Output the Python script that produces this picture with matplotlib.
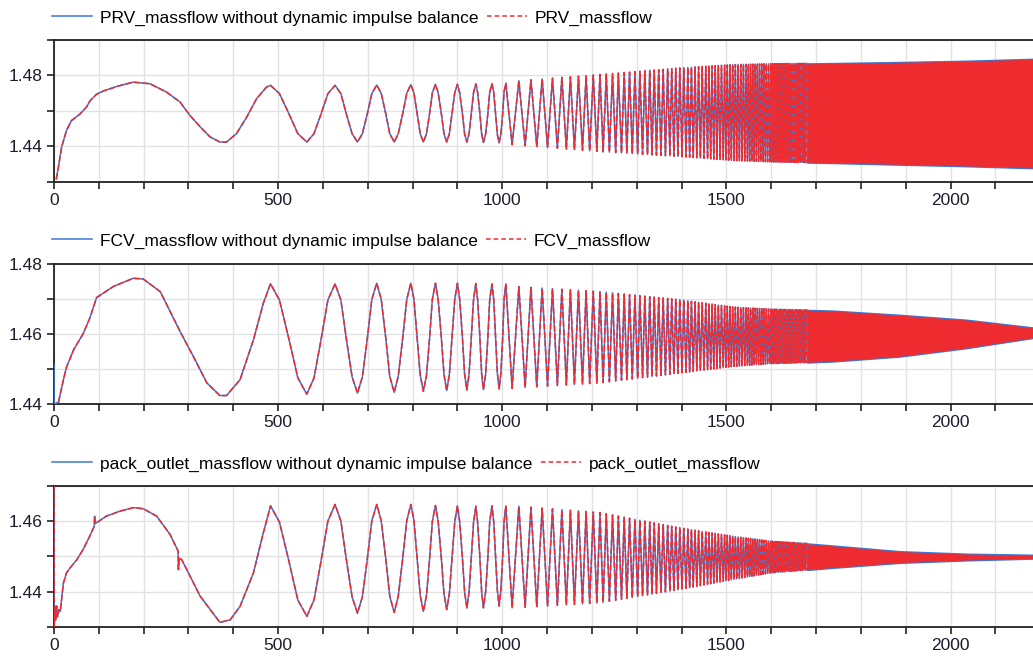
import numpy as np
import matplotlib.pyplot as plt
from matplotlib.ticker import MultipleLocator, FormatStrFormatter
from matplotlib.lines import Line2D

plt.rcParams['font.family'] = ['Liberation Sans', 'DejaVu Sans']
plt.rcParams['font.size'] = 12.5

# ---- start of each signal (t, value) ----
prv_t = [5, 10, 17, 28, 39, 58, 73, 80, 95, 110, 143, 177, 214, 251, 281, 303, 326, 348, 370, 385,
         407, 430, 452, 474]
prv_y = [1.4215, 1.4284, 1.4396, 1.449, 1.4545, 1.4582, 1.4623, 1.4656, 1.4694, 1.4712,
         1.474, 1.4762, 1.4753, 1.4706, 1.465, 1.4575, 1.451, 1.4453, 1.4424, 1.4424,
         1.4471, 1.4565, 1.4669, 1.4734]

fcv_t = [10, 21, 28, 44, 65, 80, 95, 133, 177, 199, 237, 281, 311, 341, 370, 385, 415, 445, 467]
fcv_y = [1.4405, 1.4469, 1.4505, 1.4555, 1.46, 1.4645, 1.4703, 1.4735, 1.4758, 1.4756,
         1.472, 1.4607, 1.4535, 1.446, 1.4424, 1.4424, 1.4469, 1.4583, 1.4687]

pack_t = [0, 0.5, 2, 4, 6, 8, 11, 14, 21, 28, 36, 51, 65, 80, 90, 90.5, 92, 117, 147, 177,
          199, 229, 259, 277, 277.5, 279, 285, 326, 370, 393, 415, 445, 467]
pack_y = [1.475, 1.430, 1.436, 1.432, 1.436, 1.433, 1.435, 1.4345, 1.4425, 1.4454,
          1.4468, 1.4491, 1.452, 1.4558, 1.4586, 1.4614, 1.4593, 1.4614, 1.4628, 1.4638,
          1.4635, 1.4614, 1.4562, 1.4515, 1.4463, 1.4495, 1.4491, 1.4388, 1.4314, 1.4321,
          1.4359, 1.4454, 1.4567]

# ---- the slow, readable waves (483..1008), same time points in all three plots ----
wave_t = [483, 503, 524, 544, 564, 580, 596, 611, 627, 640, 652, 665, 677, 688, 699, 709,
          720, 730, 740, 749, 759, 768, 778, 787, 796, 803, 810, 817, 824, 831, 838, 844,
          851, 857, 864, 870, 876, 882, 888, 894, 900, 905, 911, 916, 921, 926, 931, 936,
          941, 945, 950, 954, 958, 963, 968, 972, 977, 981, 985, 989, 993, 997, 1001, 1004, 1008]
prv_wave = [1.4744, 1.4697, 1.4584, 1.4471, 1.4424, 1.4471, 1.4584, 1.4697,
            1.4744, 1.4697, 1.4584, 1.4471, 1.4424, 1.4471, 1.4584, 1.4697,
            1.4746, 1.4699, 1.4585, 1.4471, 1.4424, 1.4471, 1.4585, 1.4700,
            1.4748, 1.4700, 1.4586, 1.4471, 1.4424, 1.4471, 1.4587, 1.4701,
            1.4750, 1.4702, 1.4587, 1.4471, 1.4424, 1.4471, 1.4587, 1.4702,
            1.4750, 1.4702, 1.4587, 1.4471, 1.4424, 1.4471, 1.4588, 1.4704,
            1.4752, 1.4704, 1.4587, 1.4470, 1.4422, 1.4470, 1.4588, 1.4705,
            1.4753, 1.4705, 1.4587, 1.4468, 1.4420, 1.4468, 1.4588, 1.4707,
            1.4755]
fcv_wave = [1.4742, 1.4696, 1.4585, 1.4474, 1.4428, 1.4474, 1.4585, 1.4696,
            1.4742, 1.4696, 1.4587, 1.4477, 1.4431, 1.4477, 1.4587, 1.4698,
            1.4744, 1.4698, 1.4589, 1.4479, 1.4433, 1.4479, 1.4589, 1.4698,
            1.4744, 1.4698, 1.4590, 1.4482, 1.4436, 1.4482, 1.4590, 1.4698,
            1.4744, 1.4698, 1.4591, 1.4484, 1.4438, 1.4484, 1.4591, 1.4698,
            1.4744, 1.4699, 1.4592, 1.4485, 1.4440, 1.4485, 1.4592, 1.4698,
            1.4743, 1.4698, 1.4592, 1.4486, 1.4441, 1.4486, 1.4592, 1.4697,
            1.4742, 1.4697, 1.4592, 1.4488, 1.4443, 1.4488, 1.4592, 1.4697,
            1.4742]
pack_wave = [1.4643, 1.4597, 1.4487, 1.4377, 1.4331, 1.4377, 1.4489, 1.4600,
             1.4647, 1.4600, 1.4493, 1.4386, 1.4340, 1.4386, 1.4494, 1.4601,
             1.4647, 1.4601, 1.4495, 1.4388, 1.4342, 1.4388, 1.4495, 1.4601,
             1.4647, 1.4602, 1.4496, 1.4390, 1.4345, 1.4390, 1.4495, 1.4599,
             1.4644, 1.4599, 1.4497, 1.4395, 1.4350, 1.4395, 1.4497, 1.4598,
             1.4643, 1.4598, 1.4499, 1.4400, 1.4355, 1.4400, 1.4499, 1.4597,
             1.4642, 1.4597, 1.4499, 1.4400, 1.4355, 1.4401, 1.4500, 1.4598,
             1.4643, 1.4598, 1.4502, 1.4405, 1.4360, 1.4405, 1.4502, 1.4598,
             1.4643]

# ---- maxima / minima of the fast oscillation after t=1008 (same in all plots) ----
peak_t = [1037, 1064, 1089, 1112, 1133, 1152, 1170, 1187, 1203, 1218, 1232, 1246,
          1259, 1272, 1284, 1296, 1307, 1318, 1329, 1339, 1349, 1359, 1369, 1378, 1387, 1396, 1405, 1414,
          1422, 1430, 1438, 1446, 1454, 1461, 1468, 1475, 1482, 1489, 1496, 1502, 1508, 1514, 1520, 1526,
          1532, 1538, 1544, 1549, 1554, 1559, 1564, 1569, 1574, 1579, 1584, 1589, 1594, 1599,
          1603, 1607, 1611, 1615, 1619, 1623, 1627, 1631, 1635, 1639, 1643, 1647, 1651, 1655,
          1659, 1663, 1667, 1671, 1675, 1679]
trough_t = [1022, 1051, 1077, 1101, 1123, 1143, 1161, 1179, 1195, 1211, 1225, 1239,
            1253, 1266, 1278, 1290, 1302, 1313, 1324, 1334, 1344, 1354, 1364, 1374, 1383, 1392, 1401, 1410,
            1418, 1426, 1434, 1442, 1450, 1458, 1465, 1472, 1479, 1486, 1493, 1499, 1505, 1511, 1517, 1523,
            1529, 1535, 1541, 1547, 1552, 1557, 1562, 1567, 1572, 1577, 1582, 1587, 1592, 1597,
            1601, 1605, 1609, 1613, 1617, 1621, 1625, 1629, 1633, 1637, 1641, 1645, 1649, 1653,
            1657, 1661, 1665, 1669, 1673, 1677]

# ---- upper / lower envelope of the oscillation ----
env_t = [1000, 1027, 1218, 1396, 1515, 1600, 1680, 1738, 1887, 2036, 2184]
prv_hi = [1.4755, 1.4768, 1.4805, 1.4842, 1.4861, 1.4866, 1.4868, 1.4870, 1.4876, 1.4883, 1.4894]
prv_lo = [1.4418, 1.4407, 1.4370, 1.4342, 1.4320, 1.4312, 1.4308, 1.4305, 1.4296, 1.4287, 1.4276]
fcv_hi = [1.4742, 1.4735, 1.4720, 1.4697, 1.4676, 1.4670, 1.4668, 1.4666, 1.4654, 1.4640, 1.4618]
fcv_lo = [1.4443, 1.4445, 1.4460, 1.4488, 1.4507, 1.4515, 1.4518, 1.4521, 1.4535, 1.4559, 1.4588]
pack_hi = [1.4643, 1.4643, 1.4624, 1.4581, 1.4557, 1.4543, 1.4537, 1.4531, 1.4515, 1.4508, 1.4505]
pack_lo = [1.4355, 1.4355, 1.4369, 1.4407, 1.4435, 1.4454, 1.4462, 1.4468, 1.4482, 1.4489, 1.4494]

names = ['PRV_massflow', 'FCV_massflow', 'pack_outlet_massflow']
ylims = [(1.42, 1.50), (1.44, 1.48), (1.43, 1.47)]
ysteps = [(0.04, 0.02), (0.02, 0.01), (0.02, 0.01)]

BLUE = '#3a78d6'
RED = '#ee2b2f'
DASH = (0, (4, 1.6))


def build(t0, y0, wy, hi, lo):
    pv = np.interp(peak_t, env_t, hi)
    tv = np.interp(trough_t, env_t, lo)
    et = np.concatenate([peak_t, trough_t])
    ev = np.concatenate([pv, tv])
    order = np.argsort(et)
    return (np.concatenate([t0, wave_t, et[order]]),
            np.concatenate([y0, wy, ev[order]]))


series = [build(prv_t, prv_y, prv_wave, prv_hi, prv_lo),
          build(fcv_t, fcv_y, fcv_wave, fcv_hi, fcv_lo),
          build(pack_t, pack_y, pack_wave, pack_hi, pack_lo)]
envs = [(prv_hi, prv_lo), (fcv_hi, fcv_lo), (pack_hi, pack_lo)]

fig = plt.figure(figsize=(10.33, 6.59), dpi=100)
boxes = [(0.7243, 0.9393), (0.3870, 0.6001), (0.0481, 0.2630)]
leg_y = [1.155, 1.160, 1.153]
left = 54 / 1033

env_t_arr = np.array(env_t)
dense = env_t_arr >= 1680

for i, b in enumerate(boxes):
    ax = fig.add_axes([left, b[0], 1 - left, b[1] - b[0]])
    t, y = series[i]
    hi = np.array(envs[i][0])
    lo = np.array(envs[i][1])

    if i == 1:
        # blue trace starts with a short jump at t=0
        ax.plot([0, 0, 10], [1.451, 1.440, 1.4405], color=BLUE, lw=1.1, zorder=3)
    ax.plot(t, y, color=BLUE, lw=1.1, zorder=3)
    ax.fill_between(env_t_arr[dense], lo[dense], hi[dense], color=BLUE, lw=1.0, zorder=3)
    ax.plot(t, y, color=RED, lw=1.1, ls=DASH, zorder=4)
    pad = 0.0002 if i == 0 else 0.0001
    ax.fill_between(env_t_arr[dense], lo[dense] + pad, hi[dense] - pad,
                    color=RED, lw=0, zorder=4)

    ax.set_xlim(0, 2184)
    ax.set_ylim(*ylims[i])
    ax.xaxis.set_major_locator(MultipleLocator(500))
    ax.xaxis.set_minor_locator(MultipleLocator(100))
    ax.yaxis.set_major_locator(MultipleLocator(ysteps[i][0]))
    ax.yaxis.set_minor_locator(MultipleLocator(ysteps[i][1]))
    ax.yaxis.set_major_formatter(FormatStrFormatter('%.2f'))
    ax.grid(which='both', color='#e2e2e2', lw=1.0)
    ax.set_axisbelow(True)
    ax.tick_params(which='both', direction='out', length=5, width=1.2, color='#222222',
                   labelcolor='#1c1c2c', labelsize=12.5, pad=3)
    for s in ['left', 'top', 'bottom']:
        ax.spines[s].set_color('#222222')
        ax.spines[s].set_linewidth(1.3)
    ax.spines['right'].set_visible(False)

    handles = [Line2D([], [], color=BLUE, lw=1.1),
               Line2D([], [], color=RED, lw=1.1, ls=(0, (3, 2)))]
    labels = [names[i] + ' without dynamic impulse balance', names[i]]
    ax.legend(handles, labels, loc='center left', bbox_to_anchor=(-0.002, leg_y[i]), ncol=2,
              frameon=False, borderaxespad=0, borderpad=0, handlelength=2.3,
              handletextpad=0.45, columnspacing=0.5, fontsize=12.5)

fig.savefig('out.png', dpi=100)
